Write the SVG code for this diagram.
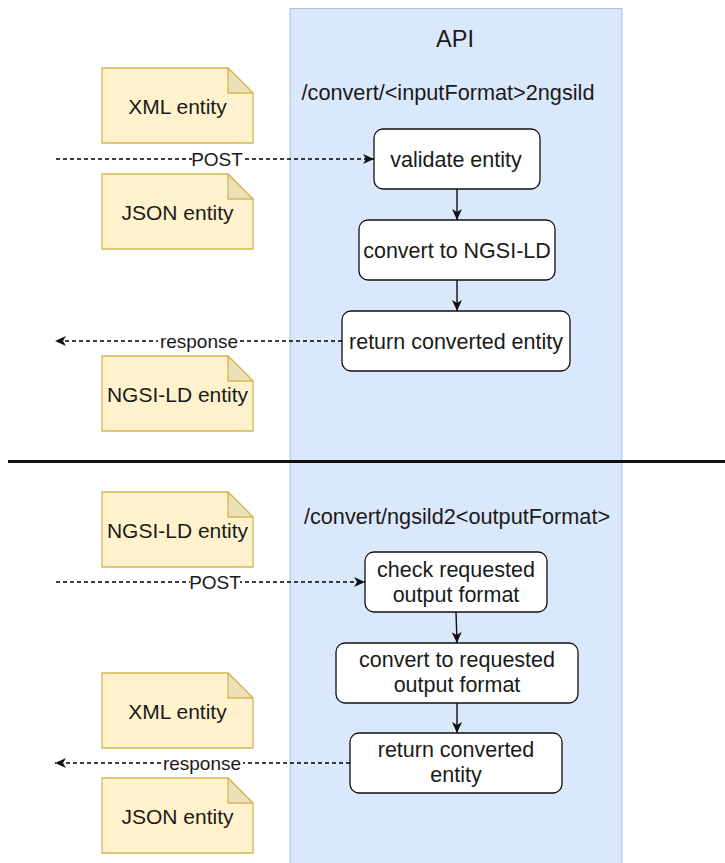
<svg xmlns="http://www.w3.org/2000/svg" width="725" height="863" viewBox="0 0 725 863">
  <style>
    text { font-family: "Liberation Sans", Arial, sans-serif; fill: #1a1a1a; }
    .lane { fill: #dae8fc; stroke: #6c8ebf; stroke-opacity: 0.5; stroke-width: 1; }
    .note { fill: #fff2cc; stroke: #d6b656; stroke-width: 1.3; }
    .fold { fill: #ece0b8; stroke: #d6b656; stroke-width: 1.3; stroke-linejoin: round; }
    .step { fill: #ffffff; stroke: #111111; stroke-width: 1.3; }
    .nt { font-size: 21px; text-anchor: middle; }
    .bt { font-size: 21.5px; text-anchor: middle; }
    .lbl { font-size: 19px; text-anchor: middle; }
    .flow { fill: none; stroke: #111111; stroke-width: 1.4; }
    .dash { fill: none; stroke: #000000; stroke-width: 1.3; stroke-dasharray: 4 3; }
    .lblbg { fill: #ffffff; }
  </style>
  <defs>
    <marker id="arrow" markerUnits="userSpaceOnUse" markerWidth="12" markerHeight="12" viewBox="0 0 12 10" refX="11" refY="5" orient="auto">
      <path d="M0,0 L11,5 L0,10 L3,5 Z" fill="#111111"/>
    </marker>
  </defs>

  <rect width="725" height="863" fill="#ffffff"/>

  <!-- API swimlane -->
  <g id="api-lane">
    <rect class="lane" x="290" y="8.5" width="332" height="870"/>
    <text x="455" y="47" font-size="23.5px" text-anchor="middle">API</text>
  </g>

  <!-- section divider -->
  <line x1="8" y1="461.5" x2="725" y2="461.5" stroke="#111" stroke-width="3"/>

  <!-- endpoint titles -->
  <g id="endpoint-in">
    <text x="448" y="100" font-size="21.7px" text-anchor="middle">/convert/&lt;inputFormat&gt;2ngsild</text>
  </g>
  <g id="endpoint-out">
    <text x="457" y="524" font-size="21.7px" text-anchor="middle">/convert/ngsild2&lt;outputFormat&gt;</text>
  </g>

  <!-- entity notes -->
  <g id="note-xml-in">
    <path class="note" d="M102,68 h126 l25,25 v50 h-151 Z"/>
    <path class="fold" d="M228,68 v25 h25 Z"/>
    <text class="nt" x="177.5" y="114">XML entity</text>
  </g>
  <g id="note-json-in">
    <path class="note" d="M102,174 h126 l25,25 v50 h-151 Z"/>
    <path class="fold" d="M228,174 v25 h25 Z"/>
    <text class="nt" x="177.5" y="220">JSON entity</text>
  </g>
  <g id="note-ngsild-out">
    <path class="note" d="M102,356 h126 l25,25 v50 h-151 Z"/>
    <path class="fold" d="M228,356 v25 h25 Z"/>
    <text class="nt" x="177.5" y="402">NGSI-LD entity</text>
  </g>
  <g id="note-ngsild-in">
    <path class="note" d="M102,492 h126 l25,25 v50 h-151 Z"/>
    <path class="fold" d="M228,492 v25 h25 Z"/>
    <text class="nt" x="177.5" y="538">NGSI-LD entity</text>
  </g>
  <g id="note-xml-out">
    <path class="note" d="M102,673 h126 l25,25 v50 h-151 Z"/>
    <path class="fold" d="M228,673 v25 h25 Z"/>
    <text class="nt" x="177.5" y="719">XML entity</text>
  </g>
  <g id="note-json-out">
    <path class="note" d="M102,778 h126 l25,25 v50 h-151 Z"/>
    <path class="fold" d="M228,778 v25 h25 Z"/>
    <text class="nt" x="177.5" y="824">JSON entity</text>
  </g>

  <!-- processing steps -->
  <g id="validate-entity">
    <rect class="step" x="374" y="129" width="166" height="60" rx="9"/>
    <text class="bt" x="456" y="167">validate entity</text>
  </g>
  <g id="convert-to-ngsild">
    <rect class="step" x="359" y="220" width="196" height="60" rx="9"/>
    <text class="bt" x="457" y="258">convert to NGSI-LD</text>
  </g>
  <g id="return-converted-1">
    <rect class="step" x="342" y="311" width="228" height="60" rx="9"/>
    <text class="bt" x="456" y="349">return converted entity</text>
  </g>
  <g id="check-format">
    <rect class="step" x="365" y="552" width="182" height="60" rx="9"/>
    <text class="bt" x="456" y="577">check requested</text>
    <text class="bt" x="456" y="602">output format</text>
  </g>
  <g id="convert-to-requested">
    <rect class="step" x="336" y="643" width="242" height="60" rx="9"/>
    <text class="bt" x="457" y="667">convert to requested</text>
    <text class="bt" x="457" y="692">output format</text>
  </g>
  <g id="return-converted-2">
    <rect class="step" x="350" y="733" width="212" height="60" rx="9"/>
    <text class="bt" x="456" y="757">return converted</text>
    <text class="bt" x="456" y="782">entity</text>
  </g>

  <!-- connectors -->
  <g id="connectors">
    <line class="flow" x1="457" y1="189" x2="457" y2="220" marker-end="url(#arrow)"/>
    <line class="flow" x1="457" y1="280" x2="457" y2="311" marker-end="url(#arrow)"/>
    <line class="flow" x1="456" y1="612" x2="457" y2="643" marker-end="url(#arrow)"/>
    <line class="flow" x1="457" y1="703" x2="457" y2="733" marker-end="url(#arrow)"/>

    <line class="dash" x1="56" y1="159" x2="374" y2="159" marker-end="url(#arrow)"/>
    <rect class="lblbg" x="192" y="150" width="50" height="18"/>
    <text class="lbl" x="217" y="166">POST</text>

    <line class="dash" x1="342" y1="341" x2="55" y2="341" marker-end="url(#arrow)"/>
    <rect class="lblbg" x="158" y="332" width="82" height="18"/>
    <text class="lbl" x="199" y="348">response</text>

    <line class="dash" x1="56" y1="582" x2="365" y2="582" marker-end="url(#arrow)"/>
    <rect class="lblbg" x="190" y="573" width="50" height="18"/>
    <text class="lbl" x="215" y="589">POST</text>

    <line class="dash" x1="350" y1="763" x2="55" y2="763" marker-end="url(#arrow)"/>
    <rect class="lblbg" x="161" y="754" width="82" height="18"/>
    <text class="lbl" x="202" y="770">response</text>
  </g>
</svg>
